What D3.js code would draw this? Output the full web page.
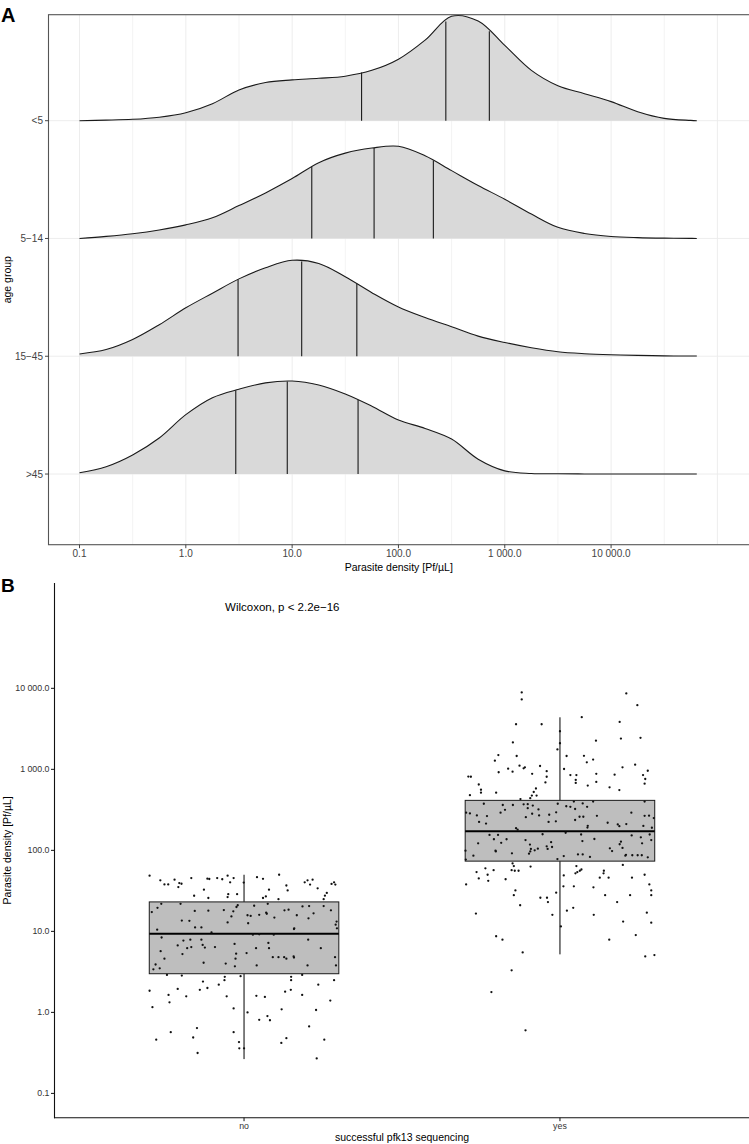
<!DOCTYPE html>
<html><head><meta charset="utf-8">
<script src="https://cdn.jsdelivr.net/npm/d3@7"></script>
<style>body{margin:0;background:#fff}svg{display:block}text{font-family:"Liberation Sans",Arial,Helvetica,sans-serif}</style>
</head><body>
<svg id="chart" width="749" height="1144"></svg>
<script>
// ---------- Panel A data ----------
const ageGroups = ["<5", "5−14", "15−45", ">45"];
const densityGrid = [0.1, 0.178, 0.316, 0.562, 1, 1.78, 3.16, 5.62, 10, 17.8, 31.6, 56.2, 100, 178, 316, 562, 1000, 1780, 3160, 5620, 10000, 17800, 31600, 56200, 64000];
const ridgeUnder5 = [0, 0.005, 0.013, 0.033, 0.075, 0.16, 0.29, 0.36, 0.385, 0.40, 0.42, 0.475, 0.58, 0.76, 0.985, 0.94, 0.71, 0.475, 0.33, 0.255, 0.18, 0.085, 0.022, 0.003, 0];
const ridge5to14 = [0, 0.02, 0.045, 0.08, 0.128, 0.195, 0.31, 0.43, 0.565, 0.715, 0.805, 0.853, 0.87, 0.78, 0.64, 0.50, 0.37, 0.23, 0.105, 0.047, 0.019, 0.008, 0.003, 0.001, 0];
const ridge15to45 = [0.022, 0.063, 0.158, 0.297, 0.457, 0.595, 0.73, 0.835, 0.905, 0.875, 0.75, 0.60, 0.465, 0.365, 0.278, 0.19, 0.13, 0.08, 0.042, 0.024, 0.014, 0.008, 0.004, 0.002, 0.002];
const ridgeOver45 = [0.012, 0.069, 0.18, 0.34, 0.56, 0.72, 0.80, 0.86, 0.877, 0.84, 0.755, 0.64, 0.51, 0.43, 0.33, 0.14, 0.03, 0.005, 0.002, 0.001, 0.001, 0.001, 0.001, 0.001, 0.001];
const quartilesUnder5 = [45, 279, 716];
const quartiles5to14 = [15.3, 59, 213];
const quartiles15to45 = [3.1, 12.3, 40.6];
const quartilesOver45 = [2.95, 9.0, 41.7];
const xTickValuesA = [0.1, 1, 10, 100, 1000, 10000];
const xTickLabelsA = ["0.1", "1.0", "10.0", "100.0", "1 000.0", "10 000.0"];

// ---------- Panel B data ----------
const groupsB = ["no", "yes"];
const boxNo = {low: 0.265, q1: 3.0, med: 9.35, q3: 23.1, high: 50};
const boxYes = {low: 5.2, q1: 73.6, med: 172, q3: 414, high: 4390};
const yTickValuesB = [0.1, 1, 10, 100, 1000, 10000];
const yTickLabelsB = ["0.1", "1.0", "10.0", "100.0", "1 000.0", "10 000.0"];
// [parasite density, horizontal jitter in category units]
const pointsNo = [
[48.7,-0.299],[42.7,-0.265],[38,-0.252],[38,-0.240],[43.5,-0.220],[35.2,-0.208],[39.5,-0.205],[38.7,-0.198],[45.5,-0.167],[27.5,-0.158],
[44.7,-0.116],[44.3,-0.110],[32.7,-0.127],[45.5,-0.085],[44,-0.069],[48.7,-0.052],[40.3,-0.044],[45.5,-0.033],[28.8,-0.022],[28.8,-0.05],
[25.8,-0.113],[40,-0.001],[46.7,0.041],[44.5,0.060],[32.7,0.079],[50,0.111],[36.8,0.134],[32,0.138],[27,0.069],[25.8,0.060],[25,0.109],[26.5,-0.052],
[17.3,-0.292],[19.5,-0.274],[10.5,-0.275],[8.4,-0.261],[5.7,-0.264],[4.6,-0.252],[3.9,-0.280],[3.4,-0.287],[3.5,-0.267],[21.9,-0.262],
[21.9,-0.201],[13.6,-0.197],[13.5,-0.173],[17.9,-0.156],[7.7,-0.192],[6.7,-0.210],[5.25,-0.195],[6.2,-0.18],[6.4,-0.167],[7.9,-0.170],
[11.2,-0.155],[11.2,-0.135],[7.9,-0.135],[6.8,-0.131],[6.3,-0.124],[4.1,-0.128],[18,-0.113],[9.7,-0.103],[6.4,-0.092],[18.3,-0.064],
[12.9,-0.052],[15.3,-0.040],[17.7,-0.034],[20,-0.024],[4,-0.058],[7.0,-0.030],[5.3,-0.025],[4.6,-0.027],[3.7,-0.029],[21,-0.020],
[5.4,0.008],[15.8,0.011],[15.5,0.021],[12.6,0.013],[20.7,0.032],[9.1,0.028],[6.2,0.038],[3.8,0.040],[9.2,0.048],[16,0.048],
[17,0.070],[21.9,0.075],[16.5,0.072],[7.2,0.077],[6.2,0.079],[14.8,0.096],[9.1,0.094],[4.8,0.091],[4.8,0.109],[4.8,0.127],
[4.6,0.134],[18.5,0.141],[18.2,0.128],[10.7,0.158],[4.9,0.157],[4.75,0.158],[15.8,0.167],
[1.85,-0.299],[1.16,-0.29],[1.64,-0.239],[1.33,-0.236],[1.95,-0.210],[1.58,-0.183],[2.9,-0.244],[2.85,-0.197],[1.9,-0.140],[2.4,-0.130],
[2.0,-0.116],[2.2,-0.080],[2.5,-0.062],[2.75,-0.061],[1.58,-0.055],[2.8,-0.011],[1.0,0.011],[1.12,-0.033],[1.6,0.039],[1.55,0.066],
[0.81,0.048],[0.9,0.074],[0.8,0.082],[1.09,0.119],[1.8,0.130],[1.9,0.148],[2.5,0.149],[2.75,0.149],[0.46,-0.278],[0.57,-0.232],
[0.49,-0.161],[0.64,-0.149],[0.315,-0.147],[0.57,-0.033],[0.43,-0.016],[0.36,-0.015],[0.36,0],[0.42,0.118],[0.48,0.134],
[40.3,0.192],[42.7,0.201],[43.5,0.217],[37.8,0.209],[34,0.233],[25,0.252],[27.6,0.256],[29.8,0.262],[38.5,0.277],[40.3,0.285],
[37.8,0.289],[18.2,0.275],[20.5,0.252],[16.7,0.220],[20.5,0.206],[20.3,0.185],[14.5,0.204],[13.2,0.293],[12.1,0.290],[10.9,0.294],
[10.9,0.159],[7.9,0.203],[6.2,0.243],[4.8,0.288],[3.8,0.291],[3.8,0.201],[2.9,0.184],
[1.64,0.184],[1.07,0.228],[1.4,0.273],[0.67,0.206],[0.27,0.23],[0.46,0.254],[2.5,0.285],[2.2,0.235]
];
const pointsYes = [
[8900,-0.121],[7300,-0.121],[8650,0.210],[6200,0.245],[4400,0.069],[3600,-0.139],[3600,-0.058],[3850,0.189],[2400,0.193],[2450,0.255],
[2150,-0.149],[2260,0.114],[2950,0],[2100,0],[1760,-0.008],[1500,-0.195],[1460,-0.137],[1280,-0.206],[1460,0.021],[1470,0.076],
[1320,0.105],[1220,0.085],[1140,0.238],[920,-0.194],[1020,-0.164],[935,-0.150],[1110,-0.128],[1030,-0.115],[1060,-0.111],[1100,-0.063],
[950,-0.042],[810,-0.042],[690,-0.046],[880,-0.088],[1010,0.013],[850,0.033],[850,0.052],[740,0.050],[680,0.050],[630,0.088],
[880,0.115],[700,0.115],[860,0.173],[1060,0.198],[960,0.278],[850,0.263],[760,0.270],[665,0.268],[815,-0.290],[810,-0.282],
[650,-0.257],[560,-0.250],[515,-0.250],[480,-0.285],[515,-0.202],[580,-0.076],[525,-0.083],[475,-0.089],[475,-0.074],[440,-0.094],
[600,0.157],[555,0.188],[430,-0.125],
[286,-0.285],[270,-0.263],[265,-0.231],[376,-0.241],[224,-0.256],[214,-0.234],[292,-0.297],[99,-0.299],[86,-0.274],[122,-0.259],
[77,-0.298],[99,-0.204],[97,-0.203],[363,-0.181],[292,-0.188],[316,-0.174],[363,-0.149],[155,-0.196],[124,-0.186],[92,-0.152],
[188,-0.139],[180,-0.134],[370,-0.115],[332,-0.102],[372,-0.102],[357,-0.086],[320,-0.068],[270,-0.066],[283,-0.088],[257,-0.108],
[134,-0.109],[118,-0.095],[104,-0.092],[91,-0.098],[97,-0.094],[100,-0.080],[105,-0.070],[158,-0.055],[224,-0.036],[275,-0.034],
[295,-0.012],[376,-0.007],[228,-0.013],[112,-0.042],[104,-0.039],[110,-0.025],[78,-0.008],[85,0.012],[165,0.018],[350,0.020],
[345,0.033],[324,0.048],[237,0.048],[400,0.044],[260,0.062],[380,0.072],[260,0.074],[157,0.067],[130,0.071],[89,0.057],
[89,0.072],[201,0.088],[191,0.087],[400,0.105],[267,0.117],[83,0.095],[219,0.151],[106,0.158],[98,0.165],[209,0.183],
[199,0.188],[211,0.210],[292,0.226],[128,0.193],[119,0.189],[107,0.198],[88,0.209],[87,0.229],[87,0.246],[153,0.227],
[145,0.256],[400,0.268],[267,0.268],[268,0.282],[200,0.264],[190,0.291],[250,0.297],[122,0.260],[134,0.289],[82,0.278],
[157,0.284],[87,0.259],[86,0.207],[138,0.109],[345,0.086],[126,-0.028],[137,-0.169],[137,-0.209],[155,-0.223],
[54,-0.264],[45,-0.257],[42,-0.227],[50,-0.229],[60,-0.236],[57,-0.210],[38,-0.297],[44,-0.172],[57,-0.153],[64,-0.146],
[56,-0.143],[56,-0.131],[69,-0.150],[63,-0.093],[32,-0.141],[28,-0.146],[21,-0.126],[26,-0.062],[26,-0.041],[23,-0.038],
[16,-0.024],[30,-0.012],[49,0.012],[36,0.011],[18,0.022],[19.5,0.042],[36,0.044],[52,0.049],[54,0.055],[56,0.063],
[58,0.068],[64,0.052],[11.5,0.003],[35,0.106],[16,0.107],[46,0.126],[56,0.139],[52,0.138],[46,0.154],[28,0.143],
[23,0.181],[66,0.199],[13.2,0.200],[28,0.222],[46,0.228],[50,0.268],[38,0.283],[32,0.289],[28,0.289],[17,0.275],
[12.8,0.289],[16.6,-0.266],[8.7,-0.202],[7.9,-0.182],[5.5,-0.118],[9.0,0.240],[7.9,0.156],[4.9,0.270],[5.1,0.299],
[1.78,-0.217],[3.3,-0.153],[0.6,-0.109]
];

const svg = d3.select("#chart");
const FONT_TICK_A = 10, FONT_TICK_B = 8.8, FONT_TITLE = 10.5;

// ================= PANEL A =================
const A = {left: 48.5, right: 750, top: 14.7, bottom: 544.7};
const xA = d3.scaleLog().domain([0.1, 100000]).range([79.5, 717.4]);
const yA = d3.scaleLinear().domain([0.4, 4.9]).range([A.bottom, A.top]);
const ridgeScale = 0.9;
const ridges = [
  {name: ageGroups[0], pos: 4, h: ridgeUnder5, q: quartilesUnder5},
  {name: ageGroups[1], pos: 3, h: ridge5to14, q: quartiles5to14},
  {name: ageGroups[2], pos: 2, h: ridge15to45, q: quartiles15to45},
  {name: ageGroups[3], pos: 1, h: ridgeOver45, q: quartilesOver45}
];

svg.append("clipPath").attr("id", "clipA").append("rect")
  .attr("x", A.left).attr("y", A.top).attr("width", A.right - A.left).attr("height", A.bottom - A.top);
const gA = svg.append("g");
const gridA = gA.append("g").attr("clip-path", "url(#clipA)");
for (let k = -2; k <= 5; k++) {
  gridA.append("line").attr("x1", xA(Math.pow(10, k + 0.5))).attr("x2", xA(Math.pow(10, k + 0.5)))
    .attr("y1", A.top).attr("y2", A.bottom).attr("stroke", "#EEEEEE").attr("stroke-width", 0.7);
  gridA.append("line").attr("x1", xA(Math.pow(10, k))).attr("x2", xA(Math.pow(10, k)))
    .attr("y1", A.top).attr("y2", A.bottom).attr("stroke", "#EBEBEB").attr("stroke-width", 0.9);
}
ridges.forEach(r => {
  gridA.append("line").attr("x1", A.left).attr("x2", A.right).attr("y1", yA(r.pos)).attr("y2", yA(r.pos))
    .attr("stroke", "#EBEBEB").attr("stroke-width", 0.9);
});

function heightAt(h, v) {
  const lv = Math.log10(v);
  for (let i = 0; i < densityGrid.length - 1; i++) {
    const a = Math.log10(densityGrid[i]), b = Math.log10(densityGrid[i + 1]);
    if (lv >= a && lv <= b) { const t = (lv - a) / (b - a); return h[i] + t * (h[i + 1] - h[i]); }
  }
  return 0;
}

const ridgeG = gA.append("g").attr("clip-path", "url(#clipA)");
ridges.forEach(r => {
  const pts = densityGrid.map((x, i) => ({x: x, h: r.h[i]}));
  const area = d3.area().x(d => xA(d.x)).y0(yA(r.pos)).y1(d => yA(r.pos + Math.max(0, d.h) * ridgeScale))
    .curve(d3.curveCatmullRom.alpha(0.5));
  const line = d3.line().x(d => xA(d.x)).y(d => yA(r.pos + Math.max(0, d.h) * ridgeScale))
    .curve(d3.curveCatmullRom.alpha(0.5));
  const g = ridgeG.append("g");
  g.append("path").datum(pts).attr("d", area).attr("fill", "#D9D9D9").attr("stroke", "none");
  r.q.forEach(q => {
    g.append("line").attr("x1", xA(q)).attr("x2", xA(q))
      .attr("y1", yA(r.pos)).attr("y2", yA(r.pos + heightAt(r.h, q) * ridgeScale))
      .attr("stroke", "#1a1a1a").attr("stroke-width", 1.1);
  });
  g.append("path").datum(pts).attr("d", line).attr("fill", "none").attr("stroke", "#1a1a1a").attr("stroke-width", 1.1);
});

// border
gA.append("rect").attr("x", A.left).attr("y", A.top).attr("width", A.right - A.left).attr("height", A.bottom - A.top)
  .attr("fill", "none").attr("stroke", "#555555").attr("stroke-width", 1.1);

// y axis A
ridges.forEach(r => {
  gA.append("line").attr("x1", A.left - 3.5).attr("x2", A.left).attr("y1", yA(r.pos)).attr("y2", yA(r.pos))
    .attr("stroke", "#333").attr("stroke-width", 0.9);
  gA.append("text").attr("x", A.left - 5.5).attr("y", yA(r.pos) + 3.6).attr("text-anchor", "end")
    .attr("font-size", FONT_TICK_A).attr("fill", "#444").text(r.name);
});
// x axis A
xTickValuesA.forEach((v, i) => {
  gA.append("line").attr("x1", xA(v)).attr("x2", xA(v)).attr("y1", A.bottom).attr("y2", A.bottom + 3.5)
    .attr("stroke", "#333").attr("stroke-width", 0.9);
  gA.append("text").attr("x", xA(v)).attr("y", A.bottom + 12.3).attr("text-anchor", "middle")
    .attr("font-size", FONT_TICK_A).attr("fill", "#444").text(xTickLabelsA[i]);
});
gA.append("text").attr("x", (A.left + 749) / 2).attr("y", 570.8).attr("text-anchor", "middle")
  .attr("font-size", FONT_TITLE).attr("fill", "#000").text("Parasite density [Pf/µL]");
gA.append("text").attr("transform", `translate(10.5,${(A.top + A.bottom) / 2}) rotate(-90)`).attr("text-anchor", "middle")
  .attr("font-size", FONT_TITLE).attr("fill", "#000").text("age group");
svg.append("text").attr("x", 1).attr("y", 21.7).attr("font-size", 20).attr("font-weight", "bold").text("A");

// ================= PANEL B =================
const B = {left: 54.5, right: 749.5, top: 583, bottom: 1117.7};
const xB = d3.scaleLinear().domain([0.4, 2.6]).range([B.left, B.right]);
const yB = d3.scaleLog().domain([Math.pow(10, -1.3), Math.pow(10, 5.3)]).range([B.bottom, B.top]);
const gB = svg.append("g");
const boxes = [{c: 1, s: boxNo, pts: pointsNo}, {c: 2, s: boxYes, pts: pointsYes}];
const halfW = 0.3;
boxes.forEach(b => {
  gB.append("line").attr("x1", xB(b.c)).attr("x2", xB(b.c)).attr("y1", yB(b.s.high)).attr("y2", yB(b.s.q3))
    .attr("stroke", "#000").attr("stroke-width", 1);
  gB.append("line").attr("x1", xB(b.c)).attr("x2", xB(b.c)).attr("y1", yB(b.s.q1)).attr("y2", yB(b.s.low))
    .attr("stroke", "#000").attr("stroke-width", 1);
  gB.append("rect").attr("x", xB(b.c - halfW)).attr("y", yB(b.s.q3))
    .attr("width", xB(b.c + halfW) - xB(b.c - halfW)).attr("height", yB(b.s.q1) - yB(b.s.q3))
    .attr("fill", "#BEBEBE").attr("stroke", "#1a1a1a").attr("stroke-width", 1);
  gB.append("line").attr("x1", xB(b.c - halfW)).attr("x2", xB(b.c + halfW)).attr("y1", yB(b.s.med)).attr("y2", yB(b.s.med))
    .attr("stroke", "#000").attr("stroke-width", 2);
});
boxes.forEach(b => {
  gB.append("g").selectAll("circle").data(b.pts).join("circle")
    .attr("cx", d => xB(b.c + d[1])).attr("cy", d => yB(d[0])).attr("r", 1.15).attr("fill", "#111");
});
// axes B
gB.append("line").attr("x1", B.left).attr("x2", B.left).attr("y1", B.top).attr("y2", B.bottom + 0.5)
  .attr("stroke", "#111").attr("stroke-width", 1.1);
gB.append("line").attr("x1", B.left - 0.5).attr("x2", B.right).attr("y1", B.bottom).attr("y2", B.bottom)
  .attr("stroke", "#111").attr("stroke-width", 1.1);
yTickValuesB.forEach((v, i) => {
  gB.append("line").attr("x1", B.left - 3.5).attr("x2", B.left).attr("y1", yB(v)).attr("y2", yB(v))
    .attr("stroke", "#111").attr("stroke-width", 1);
  gB.append("text").attr("x", B.left - 5).attr("y", yB(v) + 3.1).attr("text-anchor", "end")
    .attr("font-size", FONT_TICK_B).attr("fill", "#333").text(yTickLabelsB[i]);
});
groupsB.forEach((g, i) => {
  gB.append("line").attr("x1", xB(i + 1)).attr("x2", xB(i + 1)).attr("y1", B.bottom).attr("y2", B.bottom + 3.5)
    .attr("stroke", "#111").attr("stroke-width", 1);
  gB.append("text").attr("x", xB(i + 1)).attr("y", B.bottom + 11.3).attr("text-anchor", "middle")
    .attr("font-size", FONT_TICK_B).attr("fill", "#333").text(g);
});
gB.append("text").attr("x", (B.left + B.right) / 2).attr("y", 1140.5).attr("text-anchor", "middle")
  .attr("font-size", FONT_TITLE).attr("fill", "#000").text("successful pfk13 sequencing");
gB.append("text").attr("transform", `translate(10.5,${(B.top + B.bottom) / 2}) rotate(-90)`).attr("text-anchor", "middle")
  .attr("font-size", FONT_TITLE).attr("fill", "#000").text("Parasite density [Pf/µL]");
gB.append("text").attr("x", xB(0.94)).attr("y", yB(100000) + 4).attr("text-anchor", "start")
  .attr("font-size", 11.5).attr("fill", "#000").text("Wilcoxon, p < 2.2e−16");
svg.append("text").attr("x", 1).attr("y", 591.5).attr("font-size", 19).attr("font-weight", "bold").text("B");
</script>
</body></html>
